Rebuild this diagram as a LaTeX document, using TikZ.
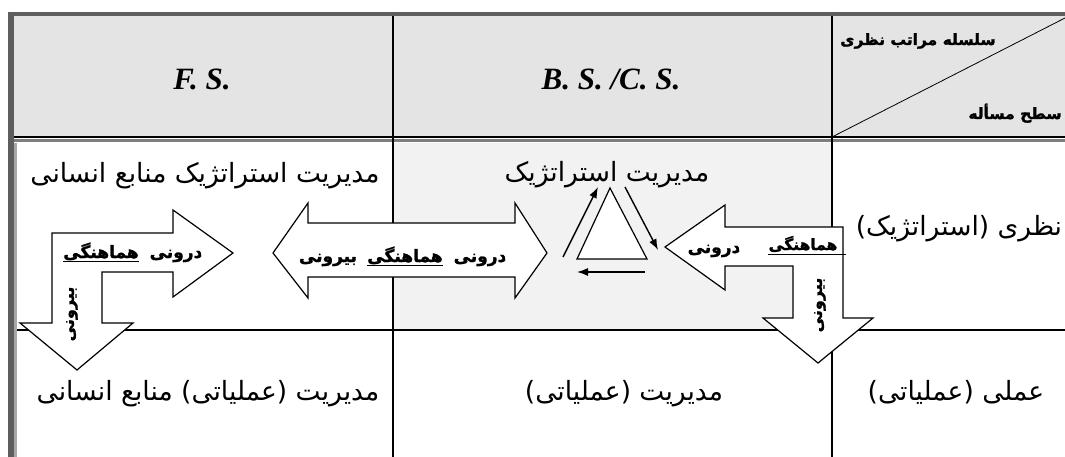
\documentclass[tikz,border=0pt]{standalone}
\usepackage{fontspec}
\setmainfont{Liberation Serif}
\newfontfamily\arabicfont[Script=Arabic]{DejaVu Sans}
\newfontfamily\arabicbold[Script=Arabic,FakeBold=1.5]{DejaVu Sans Bold}
\TeXXeTstate=1
\usetikzlibrary{arrows.meta}
\definecolor{hdrgray}{HTML}{E4E4E4}
\definecolor{shadegray}{HTML}{F2F2F2}
\definecolor{bordergray}{HTML}{5E5E5E}
\definecolor{edgegray}{HTML}{A8A8A8}
\tikzset{
  fa/.style={font=\arabicfont\fontsize{26.5}{30}\selectfont, inner sep=0pt, anchor=base},
  fab/.style={font=\arabicbold\fontsize{17}{20}\selectfont, inner sep=0pt, anchor=base},
  fav/.style={font=\arabicbold\fontsize{16}{19}\selectfont, inner sep=0pt, rotate=90, anchor=center},
  fah/.style={font=\arabicbold\fontsize{15.5}{18}\selectfont, inner sep=0pt, anchor=base},
  lat/.style={font=\bfseries\itshape\fontsize{31}{35}\selectfont, inner sep=0pt, anchor=base},
  blockarrow/.style={draw=black, fill=white, line width=1.2pt, line join=miter},
  gridline/.style={line width=1.4pt, black},
  uline/.style={line width=0.9pt, black},
  cyc/.style={line width=1.4pt, -{Latex[length=11pt,width=8pt]}},
}
\begin{document}
\begin{tikzpicture}[x=1pt,y=-1pt]
\useasboundingbox (0,0) rectangle (1065,457);
% fills
\fill[hdrgray] (14,16) rectangle (1065,137);
\fill[shadegray] (393,143) rectangle (832,330);
% borders
\draw[line width=4.5pt, bordergray] (8,14) -- (1065,14);
\draw[line width=6pt, bordergray] (11,12) -- (11,457);
\draw[line width=2.5pt, edgegray] (15.5,143) -- (15.5,457);
\draw[gridline] (14,137) -- (1065,137);
\draw[line width=3.5pt, bordergray!80] (14,140.5) -- (1065,140.5);
% grid
\draw[gridline] (393,16) -- (393,457);
\draw[gridline] (832,16) -- (832,457);
\draw[gridline] (17,330) -- (1065,330);
\draw[line width=0.8pt] (832,137) -- (1065,18);
% header texts
\node[lat] (hfs) at (202,90) {F. S.};
\node[lat] (hbs) at (611,90) {B. S. /C. S.};
\node[fah] (htop) at (918,45) {\beginR سلسله مراتب نظری\endR};
\node[fah] (hbot) at (1015,119) {\beginR سطح مسأله\endR};
% row texts
\node[fa] (r2a) at (205,183) {\beginR مدیریت استراتژیک منابع انسانی\endR};
\node[fa] (r2b) at (607,182) {\beginR مدیریت استراتژیک\endR};
\node[fa] (r2c) at (959,235) {\beginR نظری (استراتژیک)\endR};
\node[fa] (r3a) at (208,400) {\beginR مدیریت (عملیاتی) منابع انسانی\endR};
\node[fa] (r3b) at (624,400) {\beginR مدیریت (عملیاتی)\endR};
\node[fa] (r3c) at (956,400) {\beginR عملی (عملیاتی)\endR};
% left bent arrow
\draw[blockarrow] (52,233) -- (173,233) -- (173,210) -- (233,253) -- (173,297) -- (173,272)
  -- (102,272) -- (102,323) -- (133,323) -- (77,370) -- (20,323) -- (52,323) -- cycle;
\node[fab] (la1) at (176,258) {درونی};
\node[fab] (la2) at (101,258) {هماهنگی};
\draw[uline] ([yshift=-1pt]la2.south west) -- ([yshift=-1pt]la2.south east);
\node[fav] (la3) at (72,314) {بیرونی};
% double arrow
\draw[blockarrow] (273,253) -- (308,203) -- (308,223) -- (515,223) -- (515,203) -- (547,253)
  -- (515,298) -- (515,277) -- (308,277) -- (308,298) -- cycle;
\node[fab] (da1) at (480,262) {درونی};
\node[fab] (da2) at (405,262) {هماهنگی};
\node[fab] (da3) at (328,262) {بیرونی};
\draw[uline] ([yshift=-1pt]da2.south west) -- ([yshift=-1pt]da2.south east);
% triangle cycle
\draw[line width=1.2pt, fill=white] (610,188) -- (647,259) -- (577,259) -- cycle;
\coordinate (c1s) at (563,257); \coordinate (c1e) at (598,187);
\coordinate (c2s) at (625,187); \coordinate (c2e) at (658,250);
\coordinate (c3s) at (645,272); \coordinate (c3e) at (577,272);
\draw[cyc] (c1s) -- (c1e);
\draw[cyc] (c2s) -- (c2e);
\draw[cyc] (c3s) -- (c3e);
% right bent arrow
\draw[blockarrow] (665,247) -- (725,205) -- (725,227) -- (843,227) -- (843,318) -- (873,318)
  -- (818,363) -- (763,318) -- (793,318) -- (793,266) -- (725,266) -- (725,290) -- cycle;
\node[fah] (ra1) at (803,250) {هماهنگی};
\node[fab] (ra2) at (714,253) {درونی};
\draw[uline] ([yshift=-2pt]ra1.south west) -- ([yshift=-2pt,xshift=8pt]ra1.south east);
\node[fav] (ra3) at (820,305) {بیرونی};
\end{tikzpicture}
\end{document}
